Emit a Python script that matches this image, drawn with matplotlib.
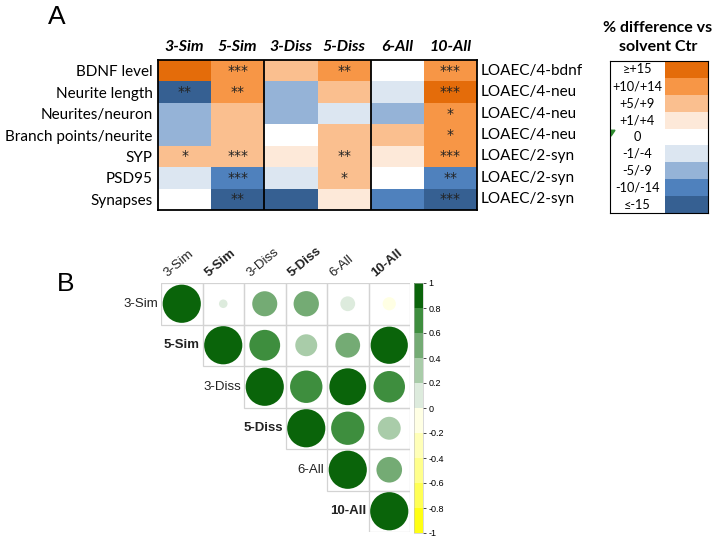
import matplotlib
matplotlib.use("Agg")
import matplotlib.pyplot as plt
import numpy as np
from matplotlib.colors import ListedColormap, BoundaryNorm
from matplotlib.patches import Circle, Rectangle, Polygon
from matplotlib.colorbar import ColorbarBase

# ---- Panel A data ----
mixtures = ["3-Sim", "5-Sim", "3-Diss", "5-Diss", "6-All", "10-All"]
endpoints = ["BDNF level", "Neurite length", "Neurites/neuron",
             "Branch points/neurite", "SYP", "PSD95", "Synapses"]
loaec = ["LOAEC/4-bdnf", "LOAEC/4-neu", "LOAEC/4-neu", "LOAEC/4-neu",
         "LOAEC/2-syn", "LOAEC/2-syn", "LOAEC/2-syn"]
# class of % difference: 4 = >=+15 ... 0 = 0 ... -4 = <=-15
levels = [
    [4, 3, 2, 3, 0, 3],
    [-4, 3, -2, 2, -1, 4],
    [-2, 2, -2, -1, -2, 3],
    [-2, 2, 0, 2, 2, 3],
    [2, 2, 1, 2, 1, 3],
    [-1, -3, -1, 2, 0, -3],
    [0, -4, -4, 1, -3, -4],
]
stars = [
    ["", "***", "", "**", "", "***"],
    ["**", "**", "", "", "", "***"],
    ["", "", "", "", "", "*"],
    ["", "", "", "", "", "*"],
    ["*", "***", "", "**", "", "***"],
    ["", "***", "", "*", "", "**"],
    ["", "**", "", "", "", "***"],
]
legend_labels = ["≥+15", "+10/+14", "+5/+9", "+1/+4", "0",
                 "-1/-4", "-5/-9", "-10/-14", "≤-15"]
legend_levels = [4, 3, 2, 1, 0, -1, -2, -3, -4]

# ---- Panel B data ----
corr_names = ["3-Sim", "5-Sim", "3-Diss", "5-Diss", "6-All", "10-All"]
corr_bold = [False, True, False, True, False, True]
nan = np.nan
corr = [
    [1.00, 0.05, 0.43, 0.44, 0.15, -0.12],
    [nan, 1.00, 0.65, 0.33, 0.42, 0.95],
    [nan, nan, 1.00, 0.72, 0.93, 0.68],
    [nan, nan, nan, 1.00, 0.76, 0.36],
    [nan, nan, nan, nan, 1.00, 0.45],
    [nan, nan, nan, nan, nan, 1.00],
]

heat_colors = ["#366092", "#4F81BD", "#95B3D7", "#DCE6F1", "#FFFFFF",
               "#FDE9D9", "#FABF8F", "#F79646", "#E46C0A"]
heat_cmap = ListedColormap(heat_colors)
heat_norm = BoundaryNorm(np.arange(-4.5, 5.5, 1), heat_cmap.N)

corr_colors = ["#FFFF14", "#FFFF55", "#FFFF8C", "#FFFFB8", "#FFFFE4",
               "#DDEBDD", "#A9CCA9", "#74AB74", "#3E8E3E", "#0A640A"]
corr_cmap = ListedColormap(corr_colors)
corr_norm = BoundaryNorm(np.linspace(-1, 1, 11), corr_cmap.N)

fA = ["Lato", "DejaVu Sans"]
fB = ["Liberation Sans", "DejaVu Sans"]

W, H = 716, 538
fig = plt.figure(figsize=(W / 100, H / 100), dpi=100)


def px_axes(x0, y0, x1, y1):
    return fig.add_axes([x0 / W, 1 - y1 / H, (x1 - x0) / W, (y1 - y0) / H])


# ================= Panel A =================
fig.text(48 / W, 1 - 17 / H, "A", fontsize=19, family=fB, ha="left", va="center")

ax = px_axes(158, 60, 477, 210)
ax.pcolormesh(np.arange(7), np.arange(8), np.array(levels), cmap=heat_cmap, norm=heat_norm)
ax.set_xlim(0, 6)
ax.set_ylim(7, 0)
for i in range(len(endpoints)):
    for j in range(len(mixtures)):
        if stars[i][j]:
            ax.text(j + 0.5, i + 0.5, stars[i][j], ha="center", va="center",
                    fontsize=10, family="DejaVu Sans", color="#222222")
for x in [2, 4]:
    ax.axvline(x, color="black", lw=1.3)
for s in ax.spines.values():
    s.set_linewidth(1.3)
ax.xaxis.tick_top()
ax.set_xticks(np.arange(6) + 0.5)
ax.set_xticklabels(mixtures, fontsize=11.5, fontweight="bold", fontstyle="italic", family=fA)
ax.set_yticks(np.arange(7) + 0.5)
ax.set_yticklabels(endpoints, fontsize=11, family=fA)
ax.tick_params(length=0, pad=4)
for i, lab in enumerate(loaec):
    ax.text(6.07, i + 0.5, lab, ha="left", va="center", fontsize=11, family=fA)

# legend of % difference
fig.text(658 / W, 1 - 28 / H, "% difference vs", fontsize=11.5, fontweight="bold",
         family=fA, ha="center", va="center")
fig.text(658 / W, 1 - 47 / H, "solvent Ctr", fontsize=11.5, fontweight="bold",
         family=fA, ha="center", va="center")
lax = px_axes(610, 61, 708, 213)
lax.set_xlim(0, 98)
lax.set_ylim(9, 0)
lax.barh(np.arange(9) + 0.5, 43, left=55, height=1.0,
         color=[heat_colors[v + 4] for v in legend_levels])
for k, lab in enumerate(legend_labels):
    lax.text(27, k + 0.5, lab, ha="center", va="center", fontsize=9.2, family=fA)
lax.add_patch(Polygon([[1, 4.1], [5, 4.1], [1, 4.45]], color="#2E8B2E"))
lax.set_xticks([])
lax.set_yticks([])
for s in lax.spines.values():
    s.set_linewidth(0.8)

# ================= Panel B =================
fig.text(57 / W, 1 - 284 / H, "B", fontsize=19, family=fB, ha="left", va="center")

bx = px_axes(161, 283, 410, 532)
bx.set_xlim(0, 6)
bx.set_ylim(6, 0)
bx.axis("off")
n = len(corr_names)
for i in range(n):
    for j in range(n):
        r = corr[i][j]
        if np.isnan(r):
            continue
        bx.add_patch(Rectangle((j, i), 1, 1, fill=False, edgecolor="#D3D3D3", lw=0.9))
        bx.add_patch(Circle((j + 0.5, i + 0.5), 0.46 * np.sqrt(abs(r)),
                            color=corr_cmap(corr_norm(r)), lw=0))
for k, name in enumerate(corr_names):
    w = "bold" if corr_bold[k] else "normal"
    bx.text(k - 0.06, k + 0.5, name, ha="right", va="center", fontsize=9.5,
            fontweight=w, family=fB, color="#222222")
    bx.text(k + 0.2, -0.1, name, ha="left", va="bottom", rotation=40,
            rotation_mode="anchor", fontsize=9.5, fontweight=w, family=fB,
            color="#222222")

cax = px_axes(414, 283, 423, 533)
cb = ColorbarBase(cax, cmap=corr_cmap, norm=corr_norm, orientation="vertical",
                  ticks=np.linspace(-1, 1, 11))
cb.ax.set_yticklabels(["-1", "-0.8", "-0.6", "-0.4", "-0.2", "0", "0.2", "0.4",
                       "0.6", "0.8", "1"], fontsize=6.5, family=fB)
cb.ax.tick_params(length=2, width=0.5, pad=2)
cb.outline.set_linewidth(0.4)
cb.outline.set_edgecolor("#BBBBBB")

fig.savefig("out.png", dpi=100)
